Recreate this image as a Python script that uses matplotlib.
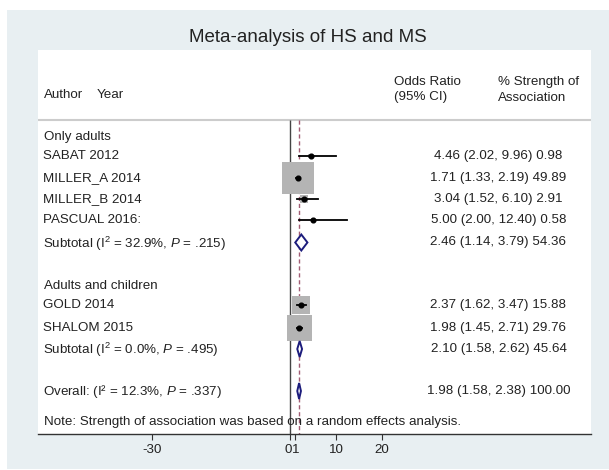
from matplotlib import pyplot as plt
from matplotlib.patches import Rectangle, Polygon
from matplotlib import transforms
import numpy as np

plt.rcParams['font.family'] = ['Liberation Sans', 'DejaVu Sans']
plt.rcParams['mathtext.fontset'] = 'custom'
plt.rcParams['mathtext.rm'] = 'Liberation Sans'
plt.rcParams['mathtext.it'] = 'Liberation Sans:italic'

# study level results
studies = ['SABAT 2012', 'MILLER_A 2014', 'MILLER_B 2014', 'PASCUAL 2016:',
           'GOLD 2014', 'SHALOM 2015']
odds = [4.46, 1.71, 3.04, 5.00, 2.37, 1.98]
ci_low = [2.02, 1.33, 1.52, 2.00, 1.62, 1.45]
ci_high = [9.96, 2.19, 6.10, 12.40, 3.47, 2.71]
weights = [0.98, 49.89, 2.91, 0.58, 15.88, 29.76]

# pooled estimates
groups = ['Only adults', 'Adults and children']
pooled_labels = [r'Subtotal (I$^{2}$ = 32.9%, $P$ = .215)',
                 r'Subtotal (I$^{2}$ = 0.0%, $P$ = .495)',
                 r'Overall: (I² = 12.3%, $P$ = .337)']
pooled_odds = [2.46, 2.10, 1.98]
pooled_low = [1.14, 1.58, 1.58]
pooled_high = [3.79, 2.62, 2.38]
pooled_weights = [54.36, 45.64, 100.00]
overall_odds = pooled_odds[-1]

xticks = [-30, 0, 1, 10, 20]

# row layout (pixels from the top of the figure)
W, H = 609, 470
study_rows = [156, 178, 199, 220, 305, 328]
pooled_rows = [242.5, 349, 391]
group_rows = [137, 286]

fig = plt.figure(figsize=(W / 100, H / 100), dpi=100)
fig.patch.set_facecolor('white')
fig.add_artist(Rectangle((7 / W, 1 - 469 / H), (W - 7) / W, (469 - 10) / H,
                         transform=fig.transFigure, facecolor='#e8eff2',
                         edgecolor='none', zorder=0))

# plot region = white panel; x in odds-ratio units, y in pixel rows
ax = fig.add_axes([38 / W, 1 - 434 / H, (591 - 38) / W, (434 - 50) / H])
ax.set_facecolor('white')
ax.set_xlim((38 - 290) / 4.6, (591 - 290) / 4.6)
ax.set_ylim(434, 50)
for s in ['top', 'left', 'right']:
    ax.spines[s].set_visible(False)
ax.spines['bottom'].set_color('#333333')
ax.spines['bottom'].set_linewidth(1)
ax.set_yticks([])
ax.set_xticks(xticks)
ax.set_xticklabels([str(t) for t in xticks])
ax.tick_params(axis='x', length=4, width=0.8, color='#333333', pad=3,
               labelsize=9.6, labelcolor='#222222')
# "0" and "1" sit close together, nudge them apart a little
labels = ax.get_xticklabels()
labels[1].set_transform(labels[1].get_transform() +
                        transforms.ScaledTranslation(-2 / 100, 0, fig.dpi_scale_trans))
labels[2].set_transform(labels[2].get_transform() +
                        transforms.ScaledTranslation(1 / 100, 0, fig.dpi_scale_trans))

fig.text(308 / W, 1 - 38 / H, 'Meta-analysis of HS and MS', ha='center',
         va='center', fontsize=13.5, color='#222222')

row_trans = transforms.blended_transform_factory(ax.transAxes, ax.transData)


def txt(x, y, s, **kw):
    # x given in figure pixels, y in row pixels
    ax.text((x - 38) / (591 - 38), y, s, transform=row_trans,
            va='center', fontsize=9.6, color='#222222', **kw)


# header
txt(44, 95, 'Author')
txt(97, 95, 'Year')
txt(394, 82, 'Odds Ratio')
txt(394, 97, '(95% CI)')
txt(498, 82, '% Strength of')
txt(498, 98, 'Association')
ax.axhline(119.5, color='#cccccc', lw=1.5)

# reference lines
ax.vlines(0, 120, 434, color='#444444', lw=1)
ax.vlines(overall_odds, 120, 434, color='#a25c74', lw=1, linestyles=(0, (3, 2)))

box_scale = 32.6 / np.sqrt(max(weights))
for name, y, est, lo, hi, w in zip(studies, study_rows, odds, ci_low, ci_high, weights):
    side = box_scale * np.sqrt(w)
    ax.add_patch(Rectangle((est - side / 2 / 4.6, y - side / 2), side / 4.6, side,
                           facecolor='#b4b4b4', edgecolor='none', zorder=2))
    ax.plot([lo, hi], [y, y], color='black', lw=1.3, zorder=3)
    ax.plot(est, y, 'o', color='black', ms=3.4, zorder=4)
    txt(43, y, name)
    txt(498.5, y, f'{est:.2f} ({lo:.2f}, {hi:.2f}) {w:.2f}', ha='center')

for name, y in zip(groups, group_rows):
    txt(44, y, name)

for name, y, est, lo, hi, w in zip(pooled_labels, pooled_rows, pooled_odds,
                                   pooled_low, pooled_high, pooled_weights):
    h = 16
    ax.add_patch(Polygon([(lo, y), (est, y - h / 2), (hi, y), (est, y + h / 2)],
                         closed=True, facecolor='white', edgecolor='#1c1c7c',
                         lw=1.4, zorder=4))
    txt(43, y + 1, name)
    txt(498.5, y, f'{est:.2f} ({lo:.2f}, {hi:.2f}) {w:.2f}', ha='center')

txt(44, 422, 'Note: Strength of association was based on a random effects analysis.')

plt.savefig('out.png', dpi=100)
